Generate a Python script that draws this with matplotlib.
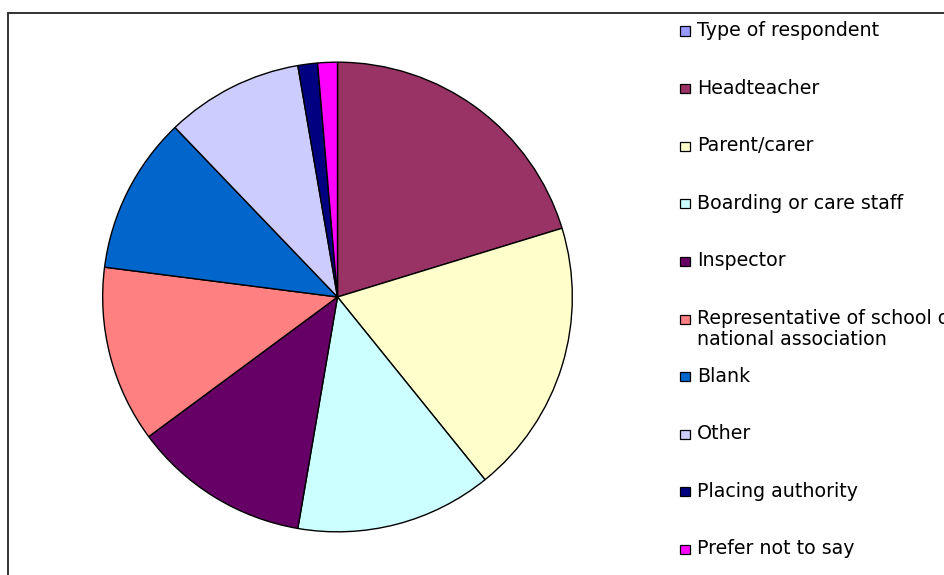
import numpy as np
import matplotlib
matplotlib.use('Agg')
from matplotlib import pyplot as plt
from matplotlib.patches import Rectangle

# respondent counts (Type of respondent is the empty header row)
labels = ['Type of respondent', 'Headteacher', 'Parent/carer', 'Boarding or care staff',
          'Inspector', 'Representative of school or\nnational association', 'Blank',
          'Other', 'Placing authority', 'Prefer not to say']
counts = [0, 15, 14, 10, 9, 9, 8, 7, 1, 1]
colours = ['#9999FF', '#993366', '#FFFFCC', '#CCFFFF', '#660066',
           '#FF8080', '#0066CC', '#CCCCFF', '#000080', '#FF00FF']

W, H = 945, 575
fig = plt.figure(figsize=(W/100, H/100), dpi=100)

# chart-area border (runs off the right and bottom edges)
fig.patches.append(Rectangle((8/W, -0.05), 1.0, 1 - 12.5/H + 0.05, transform=fig.transFigure,
                             fill=False, edgecolor='#222222', linewidth=1.3))

cx, cy, r = 337.5, 297, 236
ax = fig.add_axes([(cx - r)/W, 1 - (cy + r)/H, 2*r/W, 2*r/H])
ax.pie(counts, colors=colours, startangle=90, counterclock=False, radius=1,
       wedgeprops=dict(edgecolor='black', linewidth=1.0))
ax.set_xlim(-1.005, 1.005)
ax.set_ylim(-1.005, 1.005)
ax.set_aspect('equal')
ax.axis('off')

# legend drawn by hand so the wrapped label can run off the edge like the original
y0, step = 31, 57.6
for i, (lab, col) in enumerate(zip(labels, colours)):
    y = y0 + i*step
    fig.patches.append(Rectangle((680/W, 1 - (y + 4.5)/H), 10/W, 9/H, transform=fig.transFigure,
                                 facecolor=col, edgecolor='black', linewidth=0.9))
    fig.text(697/W, 1 - (y - 10)/H, lab, fontsize=13.7, family='DejaVu Sans', va='top',
             ha='left', linespacing=1.15)

fig.savefig('out.png', dpi=100)
